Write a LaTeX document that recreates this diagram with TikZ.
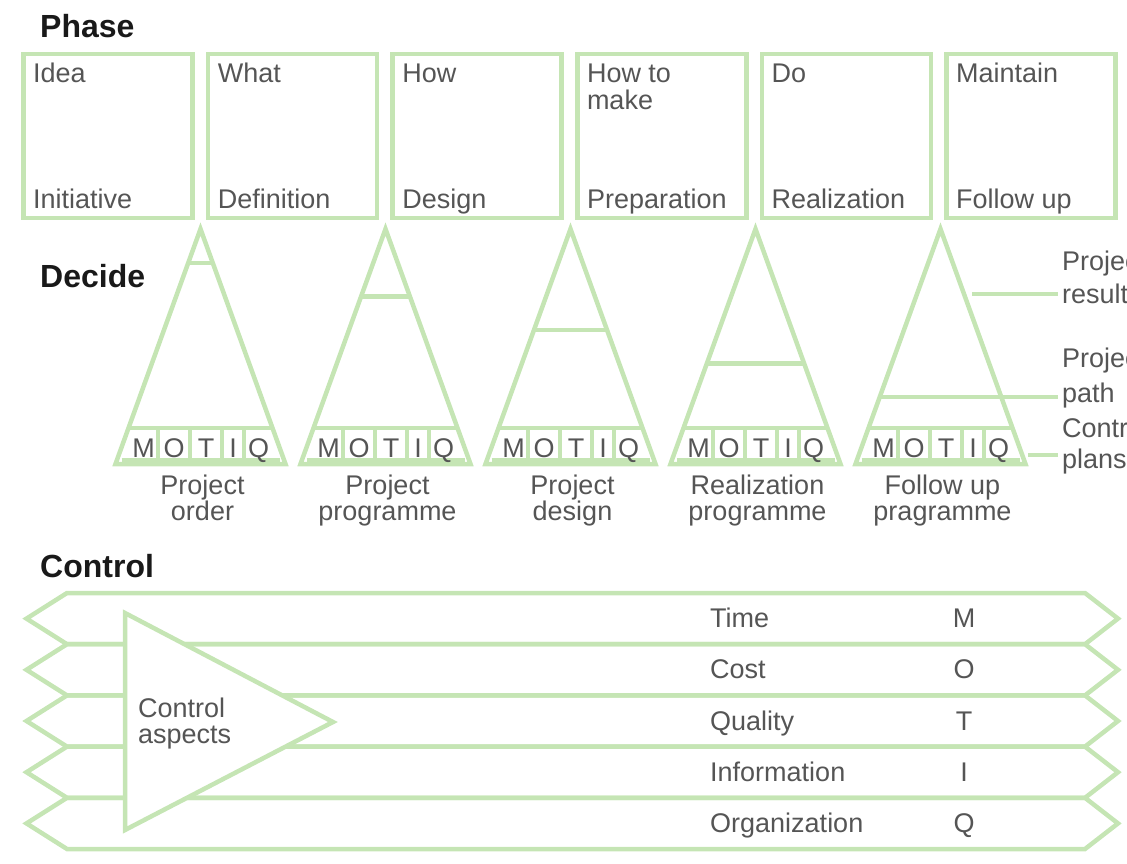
\documentclass[tikz,border=0pt]{standalone}
\usepackage{fontspec}
\setmainfont{Liberation Sans}
\definecolor{lg}{RGB}{197,229,180}
\definecolor{tx}{RGB}{85,85,85}
\definecolor{tt}{RGB}{25,25,25}
\begin{document}
\begin{tikzpicture}[x=1pt,y=-1pt,
  gl/.style={draw=lg,line width=4.5pt,line join=miter},
  pbox/.style={draw=lg,line width=4.5pt,minimum width=169pt,minimum height=164pt,inner sep=0pt,outer sep=0pt},
  lbl/.style={inner sep=0pt,text=tx,font=\fontsize{27}{28}\selectfont},
  ttl/.style={inner sep=0pt,text=tt,font=\bfseries\fontsize{32}{34}\selectfont,anchor=base west},
]
\useasboundingbox (0,0) rectangle (1127,864);
\clip (0,0) rectangle (1127,864);

% titles
\node[ttl] (tphase) at (40,38) {Phase};
\node[ttl] (tdecide) at (40,287) {Decide};
\node[ttl] (tcontrol) at (40,577) {Control};

% phase boxes
\foreach \k/\ta/\tb in {0/Idea/Initiative,1/What/Definition,2/How/Design,3/How to/Preparation,4/Do/Realization,5/Maintain/Follow up}{
  \pgfmathsetmacro{\cx}{108+184.6*\k}
  \node[pbox] (ph\k) at (\cx,136) {};
  \node[lbl,anchor=base west] (pht\k) at (\cx-75,83) {\ta};
  \node[lbl,anchor=base west] (phb\k) at (\cx-75,208) {\tb};
}
\node[lbl,anchor=base west] (pht3b) at (661.8-75,110) {make};

% decision triangles
\foreach \k/\la/\lb in {0/Project/order,1/Project/programme,2/Project/design,3/Realization/programme,4/Follow up/pragramme}{
  \pgfmathsetmacro{\ax}{200.5+185*\k}
  \pgfmathsetmacro{\dy}{263+33.5*\k}
  \pgfmathsetmacro{\hw}{85*(\dy-229)/236}
  \coordinate (apex\k) at (\ax,229);
  \coordinate (bl\k) at (\ax-85,464);
  \coordinate (br\k) at (\ax+85,464);
  \draw[gl] (apex\k) -- (bl\k) -- (br\k) -- cycle;
  \draw[gl] (\ax-79,460) -- (\ax+79,460);
  \coordinate (dl\k) at (\ax-\hw,\dy);
  \coordinate (dr\k) at (\ax+\hw,\dy);
  \draw[gl] (dl\k) -- (dr\k);
  % MOTIQ row
  \draw[gl] (\ax-71.7,428) -- (\ax+71.7,428);
  \foreach \d in {-43,-10.5,21.5,43.5}{
    \draw[gl,line width=4pt] (\ax+\d,428) -- (\ax+\d,462);
  }
  \node[lbl,anchor=base] (m\k) at (\ax-57,457) {M};
  \node[lbl,anchor=base] (o\k) at (\ax-26.5,457) {O};
  \node[lbl,anchor=base] (t\k) at (\ax+5.5,457) {T};
  \node[lbl,anchor=base] (i\k) at (\ax+32.5,457) {I};
  \node[lbl,anchor=base] (q\k) at (\ax+58,457) {Q};
  \node[lbl,anchor=base] (la\k) at (\ax+2,494) {\la};
  \node[lbl,anchor=base] (lb\k) at (\ax+2,520) {\lb};
}

% right side labels
\node[lbl,anchor=base west] (rpa) at (1062,270) {Project};
\node[lbl,anchor=base west] (rpb) at (1062,303) {result};
\node[lbl,anchor=base west] (rqa) at (1062,367) {Project};
\node[lbl,anchor=base west] (rqb) at (1062,402) {path};
\node[lbl,anchor=base west] (rca) at (1062,437) {Control};
\node[lbl,anchor=base west] (rcb) at (1062,468) {plans};
\coordinate (resA) at (972,294);
\coordinate (resB) at (1058,294);
\coordinate (pathB) at (1058,397);
\coordinate (ctlA) at (1028,455);
\coordinate (ctlB) at (1058,455);
\draw[gl] (resA) -- (resB);
\draw[gl] (dr4) -- (pathB);
\draw[gl] (ctlA) -- (ctlB);

% control bands
\foreach \j in {0,...,4}{
  \pgfmathsetmacro{\ya}{593+51.2*\j}
  \pgfmathsetmacro{\yb}{593+51.2*(\j+1)}
  \pgfmathsetmacro{\ym}{593+51.2*\j+25.6}
  \draw[gl] (67,\ya) -- (1085,\ya) -- (1118,\ym) -- (1085,\yb) -- (67,\yb) -- (26.5,\ym) -- cycle;
}
\draw[gl,fill=white] (125,613) -- (333,722) -- (125,830) -- cycle;
\node[lbl,anchor=base west] (ca1) at (138,717) {Control};
\node[lbl,anchor=base west] (ca2) at (138,743) {aspects};

\foreach \j/\nm/\ltr in {0/Time/M,1/Cost/O,2/Quality/T,3/Information/I,4/Organization/Q}{
  \pgfmathsetmacro{\yt}{593+51.2*\j+25.6+9}
  \node[lbl,anchor=base west] (asp\j) at (710,\yt) {\nm};
  \node[lbl,anchor=base] (let\j) at (964,\yt) {\ltr};
}
\end{tikzpicture}
\end{document}
